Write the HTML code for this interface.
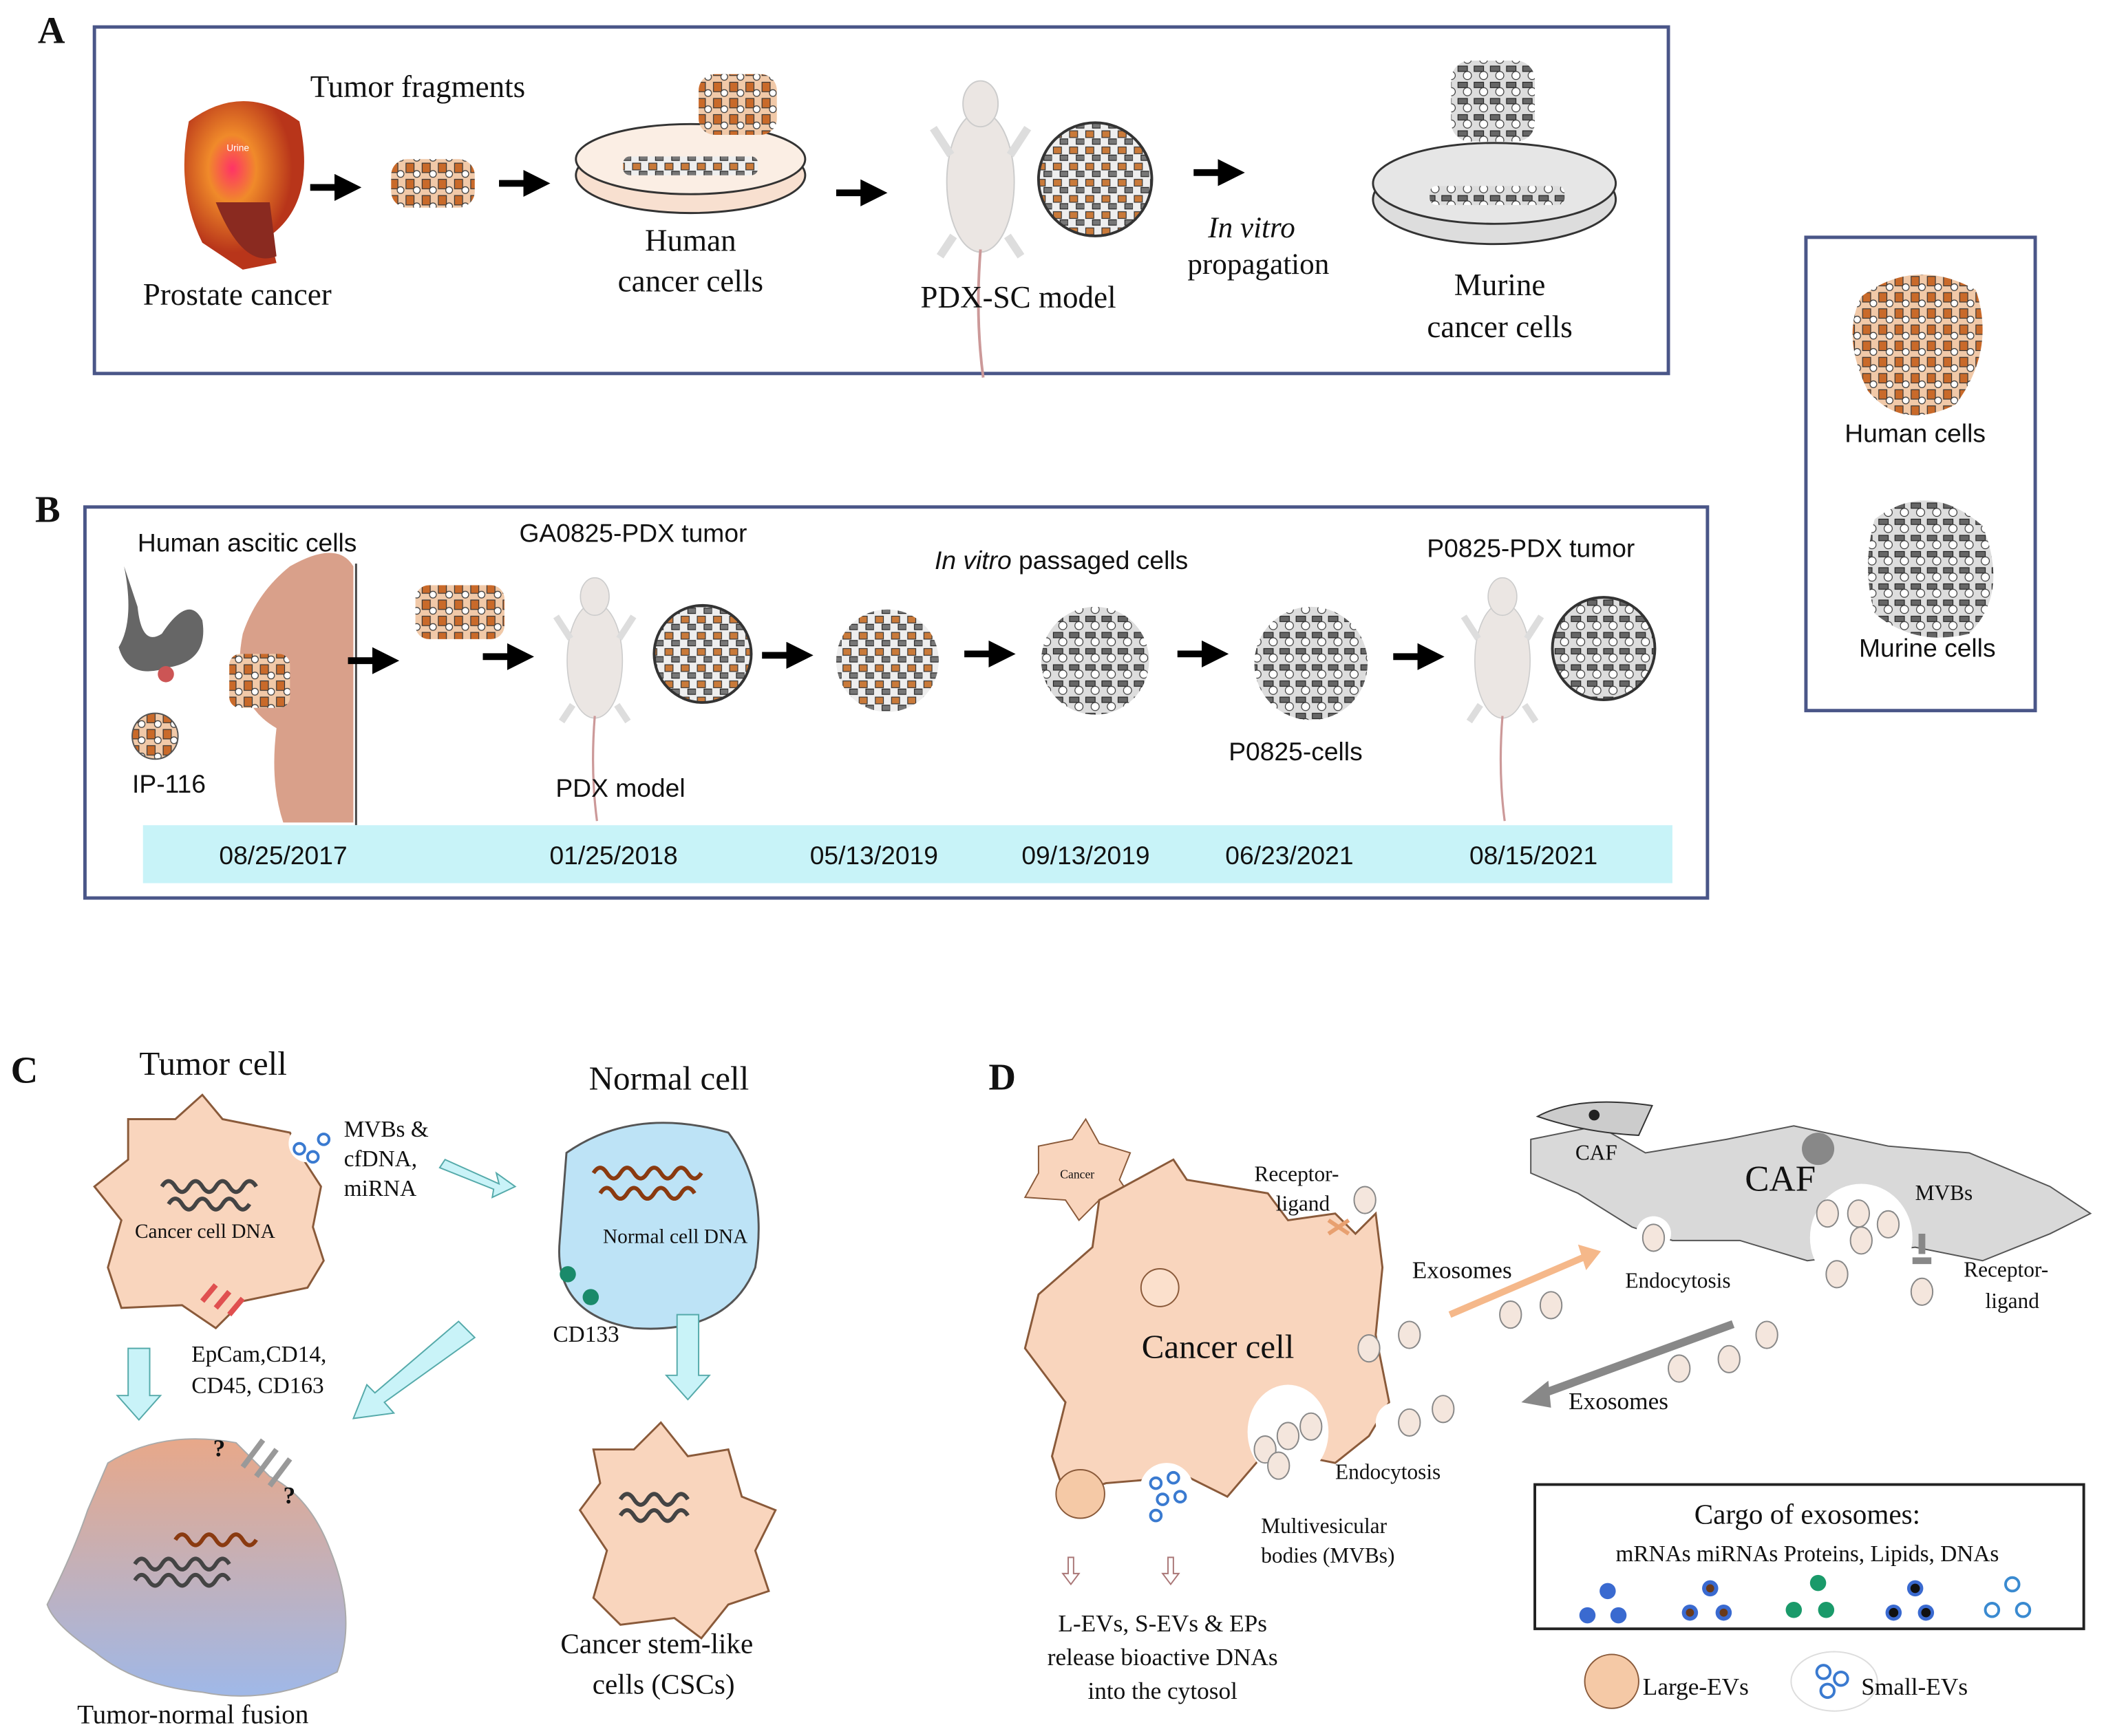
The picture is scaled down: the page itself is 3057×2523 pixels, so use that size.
<!DOCTYPE html>
<html><head><meta charset="utf-8"><style>
html,body{margin:0;padding:0;background:#fff}
svg{display:block}
.s{font-family:"Liberation Serif",serif;fill:#111}
.a{font-family:"Liberation Sans",sans-serif;fill:#111}
</style></head><body>
<svg width="3057" height="2523" viewBox="0 0 1560 1287.5" preserveAspectRatio="none" xmlns="http://www.w3.org/2000/svg">
<defs>
<marker id="ah" markerWidth="4" markerHeight="4" refX="2" refY="2" orient="auto"><path d="M0,0 L4,2 L0,4Z" fill="#000"/></marker>
<linearGradient id="fg" x1="0" y1="0" x2="0" y2="1"><stop offset="0" stop-color="#e8a889"/><stop offset="1" stop-color="#9fb8e8"/></linearGradient>
<radialGradient id="bl" cx="0.4" cy="0.4"><stop offset="0" stop-color="#f36"/><stop offset="0.4" stop-color="#f08a2a"/><stop offset="1" stop-color="#b8351a"/></radialGradient>
<pattern id="hc" width="12" height="12" patternUnits="userSpaceOnUse"><rect width="12" height="12" fill="#f1c9a8"/><rect x="1" y="1" width="6" height="7" fill="#c96a2a" stroke="#333" stroke-width="0.6"/><circle cx="9" cy="9" r="2.5" fill="#fff" stroke="#333" stroke-width="0.6"/></pattern>
<pattern id="mc" width="12" height="12" patternUnits="userSpaceOnUse"><rect width="12" height="12" fill="#ddd"/><rect x="1" y="1" width="7" height="4" fill="#666" stroke="#222" stroke-width="0.6"/><circle cx="8" cy="8" r="3" fill="#fff" stroke="#333" stroke-width="0.6"/></pattern>
<pattern id="mx" width="12" height="12" patternUnits="userSpaceOnUse"><rect width="12" height="12" fill="#eee"/><rect x="1" y="1" width="6" height="5" fill="#c97a3a" stroke="#333" stroke-width="0.6"/><rect x="6" y="7" width="6" height="4" fill="#777" stroke="#222" stroke-width="0.6"/></pattern>
<g id="mouse"><ellipse cx="0" cy="0" rx="25" ry="52" fill="#ebe6e3" stroke="#ccc"/><ellipse cx="0" cy="-58" rx="13" ry="17" fill="#ebe6e3" stroke="#ccc"/><path d="M0,50 Q-4,100 2,145" stroke="#c99" stroke-width="2" fill="none"/><path d="M-22,-20 L-35,-40 M22,-20 L35,-40 M-20,40 L-30,55 M20,40 L30,55" stroke="#ddd" stroke-width="6"/></g>
<g id="arr"><path d="M0,0 h28" stroke="#000" stroke-width="5" marker-end="url(#ah)"/></g>
<g id="ves"><ellipse cx="0" cy="0" rx="8" ry="10" fill="#f4e6dd" stroke="#888"/></g>
</defs>

<!-- A -->
<text x="28" y="32" class="s" font-size="28" font-weight="bold">A</text>
<rect x="70" y="20" width="1167" height="257" fill="none" stroke="#4a5688" stroke-width="2.5"/>
<text x="230" y="72" class="s" font-size="23">Tumor fragments</text>
<path d="M140,90 Q180,60 222,90 Q235,150 200,175 L205,195 L180,200 L150,180 Q130,140 140,90Z" fill="url(#bl)"/>
<path d="M160,150 Q180,200 205,190 L200,150Z" fill="#8a2a20"/>
<text x="168" y="112" font-size="7" fill="#fff" font-family="Liberation Sans">Urine</text>
<text x="106" y="226" class="s" font-size="23">Prostate cancer</text>
<use href="#arr" x="230" y="139"/>
<rect x="290" y="118" width="62" height="36" fill="url(#hc)" rx="12"/>
<use href="#arr" x="370" y="136"/>
<ellipse cx="512" cy="130" rx="85" ry="28" fill="#f8e0d0" stroke="#333" stroke-width="1.5"/>
<ellipse cx="512" cy="118" rx="85" ry="26" fill="#fbeee4" stroke="#333" stroke-width="1.5"/>
<rect x="462" y="116" width="100" height="14" fill="url(#mx)" rx="5"/>
<rect x="518" y="55" width="58" height="45" fill="url(#hc)" rx="12"/>
<text x="512" y="186" class="s" font-size="23" text-anchor="middle">Human</text>
<text x="512" y="216" class="s" font-size="23" text-anchor="middle">cancer cells</text>
<use href="#arr" x="620" y="143"/>
<use href="#mouse" x="727" y="135"/>
<circle cx="812" cy="133" r="42" fill="url(#mx)" stroke="#333" stroke-width="2"/>
<text x="755" y="228" class="s" font-size="23" text-anchor="middle">PDX-SC model</text>
<use href="#arr" x="885" y="128"/>
<text x="928" y="176" class="s" font-size="22" font-style="italic" text-anchor="middle">In vitro</text>
<text x="933" y="203" class="s" font-size="22" text-anchor="middle">propagation</text>
<rect x="1076" y="45" width="62" height="60" fill="url(#mc)" rx="14"/>
<ellipse cx="1108" cy="148" rx="90" ry="33" fill="#ddd" stroke="#333" stroke-width="1.5"/>
<ellipse cx="1108" cy="136" rx="90" ry="30" fill="#e6e6e6" stroke="#333" stroke-width="1.5"/>
<rect x="1060" y="138" width="100" height="14" fill="url(#mc)" rx="5"/>
<text x="1112" y="219" class="s" font-size="23" text-anchor="middle">Murine</text>
<text x="1112" y="250" class="s" font-size="23" text-anchor="middle">cancer cells</text>

<!-- legend -->
<rect x="1339" y="176" width="170" height="351" fill="none" stroke="#4a5688" stroke-width="2.5"/>
<path d="M1380,220 Q1420,190 1465,215 Q1480,260 1450,300 Q1410,320 1385,290 Q1365,250 1380,220Z" fill="url(#hc)"/>
<text x="1420" y="328" class="a" font-size="19" text-anchor="middle">Human  cells</text>
<path d="M1390,385 Q1430,355 1470,390 Q1490,440 1460,470 Q1420,480 1390,455 Q1380,420 1390,385Z" fill="url(#mc)"/>
<text x="1429" y="487" class="a" font-size="19" text-anchor="middle">Murine cells</text>

<!-- B -->
<text x="26" y="387" class="s" font-size="28" font-weight="bold">B</text>
<rect x="63" y="376" width="1203" height="290" fill="none" stroke="#4a5688" stroke-width="2.5"/>
<text x="102" y="409" class="a" font-size="19">Human  ascitic cells</text>
<path d="M92,420 Q100,460 88,480 Q95,505 125,495 Q155,490 150,460 Q140,440 120,470 Q105,480 102,450Z" fill="#666"/>
<circle cx="123" cy="500" r="6" fill="#c55"/>
<circle cx="115" cy="546" r="17" fill="url(#hc)" stroke="#555"/>
<text x="98" y="588" class="a" font-size="19">IP-116</text>
<path d="M215,420 Q250,400 262,420 L262,610 L210,610 Q200,580 205,540 Q170,520 180,470 Q190,440 215,420Z" fill="#d9a08a"/>
<rect x="170" y="485" width="45" height="40" fill="url(#hc)" rx="8"/>
<line x1="264" y1="418" x2="264" y2="612" stroke="#444" stroke-width="1.5"/>
<use href="#arr" x="258" y="490"/>
<rect x="308" y="434" width="66" height="40" fill="url(#hc)" rx="10"/>
<use href="#arr" x="358" y="487"/>
<text x="385" y="402" class="a" font-size="19">GA0825-PDX  tumor</text>
<g transform="translate(441,490) scale(0.82)"><use href="#mouse"/></g>
<circle cx="521" cy="485" r="36" fill="url(#mx)" stroke="#333" stroke-width="2"/>
<text x="412" y="591" class="a" font-size="19">PDX model</text>
<use href="#arr" x="565" y="486"/>
<text x="693" y="422" class="a" font-size="19"><tspan font-style="italic">In vitro</tspan> passaged  cells</text>
<circle cx="658" cy="490" r="38" fill="url(#mx)"/>
<use href="#arr" x="715" y="485"/>
<circle cx="812" cy="490" r="40" fill="url(#mc)"/>
<use href="#arr" x="873" y="485"/>
<circle cx="972" cy="492" r="42" fill="url(#mc)"/>
<text x="911" y="564" class="a" font-size="19">P0825-cells</text>
<use href="#arr" x="1033" y="487"/>
<text x="1058" y="413" class="a" font-size="19">P0825-PDX  tumor</text>
<g transform="translate(1114,490) scale(0.82)"><use href="#mouse"/></g>
<circle cx="1189" cy="481" r="38" fill="url(#mc)" stroke="#333" stroke-width="2"/>
<rect x="106" y="612" width="1134" height="43" fill="#c8f3f8"/>
<g class="a" font-size="19" text-anchor="middle">
<text x="210" y="641">08/25/2017</text><text x="455" y="641">01/25/2018</text><text x="648" y="641">05/13/2019</text><text x="805" y="641">09/13/2019</text><text x="956" y="641">06/23/2021</text><text x="1137" y="641">08/15/2021</text></g>

<!-- C -->
<text x="8" y="803" class="s" font-size="28" font-weight="bold">C</text>
<text x="158" y="797" class="s" font-size="25" text-anchor="middle">Tumor cell</text>
<path d="M95,830 L130,830 L150,812 L165,830 L215,840 L225,860 L238,880 L232,910 L240,935 L228,955 L180,965 L160,985 L135,968 L90,970 L80,940 L90,905 L70,880 L95,860Z" fill="#f9d5bd" stroke="#8a5a3a" stroke-width="1.5"/>
<circle cx="228" cy="848" r="14" fill="#fff"/>
<circle cx="222" cy="852" r="4" fill="none" stroke="#3a7ad0" stroke-width="2"/><circle cx="232" cy="858" r="4" fill="none" stroke="#3a7ad0" stroke-width="2"/><circle cx="240" cy="845" r="4" fill="none" stroke="#3a7ad0" stroke-width="2"/>
<g stroke="#444" stroke-width="3" fill="none"><path d="M120,880 q5,-8 10,0 q5,8 10,0 q5,-8 10,0 q5,8 10,0 q5,-8 10,0 q5,8 10,0 q5,-8 10,0"/><path d="M125,893 q5,-8 10,0 q5,8 10,0 q5,-8 10,0 q5,8 10,0 q5,-8 10,0 q5,8 10,0"/></g>
<text x="100" y="918" class="s" font-size="15">Cancer cell DNA</text>
<path d="M150,965 l10,-12 M160,970 l10,-12 M170,975 l10,-12" stroke="#e05050" stroke-width="4"/>
<text x="255" y="843" class="s" font-size="17">MVBs &amp;</text>
<text x="255" y="865" class="s" font-size="17">cfDNA,</text>
<text x="255" y="887" class="s" font-size="17">miRNA</text>
<path d="M330,860 L370,878 L368,870 L382,880 L365,888 L366,882 L326,866Z" fill="#c9f3f8" stroke="#5aa" stroke-width="1"/>
<text x="496" y="808" class="s" font-size="25" text-anchor="middle">Normal cell</text>
<path d="M420,855 Q470,820 540,840 Q570,880 560,940 Q540,990 470,985 Q410,975 415,920Z" fill="#bde3f6" stroke="#555" stroke-width="1.5"/>
<g stroke="#8a3a10" stroke-width="3" fill="none"><path d="M440,870 q5,-8 10,0 q5,8 10,0 q5,-8 10,0 q5,8 10,0 q5,-8 10,0 q5,8 10,0 q5,-8 10,0 q5,8 10,0"/><path d="M445,885 q5,-8 10,0 q5,8 10,0 q5,-8 10,0 q5,8 10,0 q5,-8 10,0 q5,8 10,0 q5,-8 10,0"/></g>
<text x="447" y="922" class="s" font-size="15">Normal cell DNA</text>
<circle cx="421" cy="945" r="6" fill="#1a8a6a"/><circle cx="438" cy="962" r="6" fill="#1a8a6a"/>
<text x="410" y="995" class="s" font-size="17">CD133</text>
<path d="M95,1000 h16 v35 h8 l-16,18 l-16,-18 h8z" fill="#c9f3f8" stroke="#5aa"/>
<text x="142" y="1010" class="s" font-size="17">EpCam,CD14,</text>
<text x="142" y="1033" class="s" font-size="17">CD45, CD163</text>
<path d="M340,980 L352,992 L285,1040 L292,1048 L262,1052 L272,1027 L278,1033Z" fill="#c9f3f8" stroke="#5aa"/>
<path d="M502,975 h16 v45 h8 l-16,18 l-16,-18 h8z" fill="#c9f3f8" stroke="#5aa"/>
<path d="M80,1085 Q120,1060 175,1070 L200,1095 Q230,1110 245,1150 Q265,1200 250,1240 Q200,1265 150,1255 Q100,1250 70,1225 Q40,1205 35,1190 Q55,1150 65,1120Z" fill="url(#fg)" stroke="#aaa"/>
<path d="M180,1088 l15,-20 M190,1095 l15,-20 M200,1102 l15,-20" stroke="#999" stroke-width="4"/>
<text x="158" y="1080" class="s" font-size="18" font-weight="bold">?</text><text x="210" y="1115" class="s" font-size="18" font-weight="bold">?</text>
<g stroke="#8a3a10" stroke-width="3" fill="none"><path d="M130,1142 q5,-8 10,0 q5,8 10,0 q5,-8 10,0 q5,8 10,0 q5,-8 10,0 q5,8 10,0"/></g>
<g stroke="#444" stroke-width="3" fill="none"><path d="M100,1160 q5,-8 10,0 q5,8 10,0 q5,-8 10,0 q5,8 10,0 q5,-8 10,0 q5,8 10,0 q5,-8 10,0"/><path d="M100,1172 q5,-8 10,0 q5,8 10,0 q5,-8 10,0 q5,8 10,0 q5,-8 10,0 q5,8 10,0 q5,-8 10,0"/></g>
<text x="143" y="1278" class="s" font-size="20" text-anchor="middle">Tumor-normal  fusion</text>
<path d="M440,1075 L470,1075 L490,1055 L510,1080 L540,1075 L550,1110 L575,1120 L560,1150 L570,1180 L540,1190 L520,1215 L500,1200 L460,1205 L440,1185 L450,1150 L430,1120 L445,1100Z" fill="#f9d5bd" stroke="#8a5a3a" stroke-width="1.5"/>
<g stroke="#444" stroke-width="3" fill="none"><path d="M460,1112 q5,-8 10,0 q5,8 10,0 q5,-8 10,0 q5,8 10,0 q5,-8 10,0"/><path d="M460,1124 q5,-8 10,0 q5,8 10,0 q5,-8 10,0 q5,8 10,0 q5,-8 10,0"/></g>
<text x="487" y="1226" class="s" font-size="21" text-anchor="middle">Cancer stem-like</text>
<text x="492" y="1256" class="s" font-size="21" text-anchor="middle">cells (CSCs)</text>

<!-- D -->
<text x="733" y="808" class="s" font-size="28" font-weight="bold">D</text>
<path d="M770,850 L795,845 L805,830 L815,848 L838,855 L830,875 L840,890 L815,890 L800,905 L790,890 L760,888 L770,870Z" fill="#f9d5bd" stroke="#8a5a3a"/>
<text x="786" y="874" class="s" font-size="9">Cancer</text>
<path d="M770,960 L810,925 L815,890 L870,860 L880,875 L940,885 L955,905 L990,900 L1005,915 L1020,900 L1025,940 L1020,990 L1030,1040 L1015,1065 L990,1085 L940,1075 L910,1110 L880,1095 L820,1100 L790,1110 L780,1080 L790,1040 L760,1000Z" fill="#f9d5bd" stroke="#8a5a3a" stroke-width="1.5"/>
<circle cx="860" cy="955" r="14" fill="#fbe0cc" stroke="#8a5a3a"/>
<text x="903" y="1007" class="s" font-size="25" text-anchor="middle">Cancer cell</text>
<ellipse cx="955" cy="1062" rx="30" ry="35" fill="#fff"/>
<use href="#ves" x="938" y="1075"/><use href="#ves" x="955" y="1065"/><use href="#ves" x="972" y="1058"/><use href="#ves" x="948" y="1087"/>
<circle cx="1035" cy="1055" r="15" fill="#fff"/><use href="#ves" x="1045" y="1055"/>
<circle cx="801" cy="1108" r="18" fill="#f5c9a6" stroke="#8a5a3a"/>
<circle cx="865" cy="1105" r="20" fill="#fff"/>
<g fill="none" stroke="#3a7ad0" stroke-width="2"><circle cx="857" cy="1100" r="4"/><circle cx="870" cy="1096" r="4"/><circle cx="862" cy="1112" r="4"/><circle cx="875" cy="1110" r="4"/><circle cx="857" cy="1124" r="4"/></g>
<text x="930" y="876" class="s" font-size="16">Receptor-</text><text x="946" y="898" class="s" font-size="16">ligand</text>
<use href="#ves" x="1012" y="890"/>
<path d="M985,905 l15,10 m-15,0 l15,-10" stroke="#e8a070" stroke-width="3"/>
<text x="1047" y="948" class="s" font-size="18">Exosomes</text>
<path d="M1075,975 L1180,930" stroke="#f5b88a" stroke-width="5"/><path d="M1170,923 L1187,928 L1176,942Z" fill="#f5b88a"/>
<use href="#ves" x="1120" y="975"/><use href="#ves" x="1150" y="968"/><use href="#ves" x="1015" y="1000"/><use href="#ves" x="1045" y="990"/><use href="#ves" x="1070" y="1045"/>
<path d="M1135,845 L1185,835 L1220,855 L1280,845 L1330,835 L1400,850 L1460,855 L1520,880 L1550,900 L1520,915 L1470,935 L1420,925 L1380,930 L1340,935 L1290,920 L1240,920 L1210,910 L1170,885 L1135,870Z" fill="#d9d9d9" stroke="#555"/>
<path d="M1140,828 Q1170,812 1225,820 L1215,842 Q1175,840 1140,828Z" fill="#ccc" stroke="#333"/>
<circle cx="1182" cy="827" r="4" fill="#222"/>
<text x="1168" y="860" class="s" font-size="16">CAF</text>
<text x="1320" y="883" class="s" font-size="27" text-anchor="middle">CAF</text>
<circle cx="1348" cy="852" r="12" fill="#888"/>
<ellipse cx="1380" cy="918" rx="38" ry="40" fill="#fff"/>
<use href="#ves" x="1355" y="900"/><use href="#ves" x="1378" y="900"/><use href="#ves" x="1400" y="908"/><use href="#ves" x="1380" y="920"/>
<text x="1420" y="890" class="s" font-size="16">MVBs</text>
<circle cx="1226" cy="915" r="13" fill="#fff"/><use href="#ves" x="1226" y="918"/>
<text x="1205" y="955" class="s" font-size="16">Endocytosis</text>
<path d="M1425,915 v15 M1418,935 h14" stroke="#888" stroke-width="5"/>
<use href="#ves" x="1425" y="958"/><use href="#ves" x="1362" y="945"/>
<text x="1456" y="947" class="s" font-size="16">Receptor-</text><text x="1472" y="970" class="s" font-size="16">ligand</text>
<path d="M1285,982 L1140,1035" stroke="#888" stroke-width="6"/><path d="M1148,1024 L1128,1040 L1150,1044Z" fill="#888"/>
<use href="#ves" x="1310" y="990"/><use href="#ves" x="1282" y="1008"/><use href="#ves" x="1245" y="1015"/>
<text x="1163" y="1045" class="s" font-size="18">Exosomes</text>
<text x="990" y="1097" class="s" font-size="16">Endocytosis</text>
<text x="935" y="1137" class="s" font-size="16">Multivesicular</text>
<text x="935" y="1159" class="s" font-size="16">bodies (MVBs)</text>
<path d="M792,1155 v12 h-4 l6,8 l6,-8 h-4 v-12z M866,1155 v12 h-4 l6,8 l6,-8 h-4 v-12z" fill="none" stroke="#a77"/>
<text x="862" y="1210" class="s" font-size="18" text-anchor="middle">L-EVs, S-EVs &amp; EPs</text>
<text x="862" y="1235" class="s" font-size="18" text-anchor="middle">release bioactive DNAs</text>
<text x="862" y="1260" class="s" font-size="18" text-anchor="middle">into the cytosol</text>
<rect x="1138" y="1101" width="407" height="107" fill="none" stroke="#222" stroke-width="2"/>
<text x="1340" y="1130" class="s" font-size="21" text-anchor="middle">Cargo of exosomes:</text>
<text x="1340" y="1158" class="s" font-size="17" text-anchor="middle">mRNAs miRNAs Proteins, Lipids, DNAs</text>
<g><circle cx="1192" cy="1180" r="6" fill="#3a6ad0"/><circle cx="1177" cy="1198" r="6" fill="#3a6ad0"/><circle cx="1200" cy="1198" r="6" fill="#3a6ad0"/>
<circle cx="1268" cy="1178" r="6" fill="#3a6ad0"/><circle cx="1268" cy="1178" r="3" fill="#6a3a1a"/><circle cx="1253" cy="1196" r="6" fill="#3a6ad0"/><circle cx="1253" cy="1196" r="3" fill="#6a3a1a"/><circle cx="1278" cy="1196" r="6" fill="#3a6ad0"/><circle cx="1278" cy="1196" r="3" fill="#6a3a1a"/>
<circle cx="1348" cy="1174" r="6" fill="#1a9a6a"/><circle cx="1330" cy="1194" r="6" fill="#1a9a6a"/><circle cx="1354" cy="1194" r="6" fill="#1a9a6a"/>
<circle cx="1420" cy="1178" r="6" fill="#3a6ad0"/><circle cx="1420" cy="1178" r="3.5" fill="#111"/><circle cx="1404" cy="1196" r="6" fill="#3a6ad0"/><circle cx="1404" cy="1196" r="3.5" fill="#111"/><circle cx="1428" cy="1196" r="6" fill="#3a6ad0"/><circle cx="1428" cy="1196" r="3.5" fill="#111"/>
<g fill="none" stroke="#3a8ad0" stroke-width="2"><circle cx="1492" cy="1175" r="5"/><circle cx="1477" cy="1194" r="5"/><circle cx="1500" cy="1194" r="5"/></g></g>
<circle cx="1195" cy="1247" r="20" fill="#f5c9a6" stroke="#8a5a3a"/>
<text x="1218" y="1257" class="s" font-size="18">Large-EVs</text>
<ellipse cx="1360" cy="1247" rx="32" ry="22" fill="#fff" stroke="#ddd"/>
<g fill="none" stroke="#3a7ad0" stroke-width="2"><circle cx="1352" cy="1240" r="5"/><circle cx="1365" cy="1245" r="5"/><circle cx="1355" cy="1254" r="5"/></g>
<text x="1380" y="1257" class="s" font-size="18">Small-EVs</text>
</svg>
</body></html>
